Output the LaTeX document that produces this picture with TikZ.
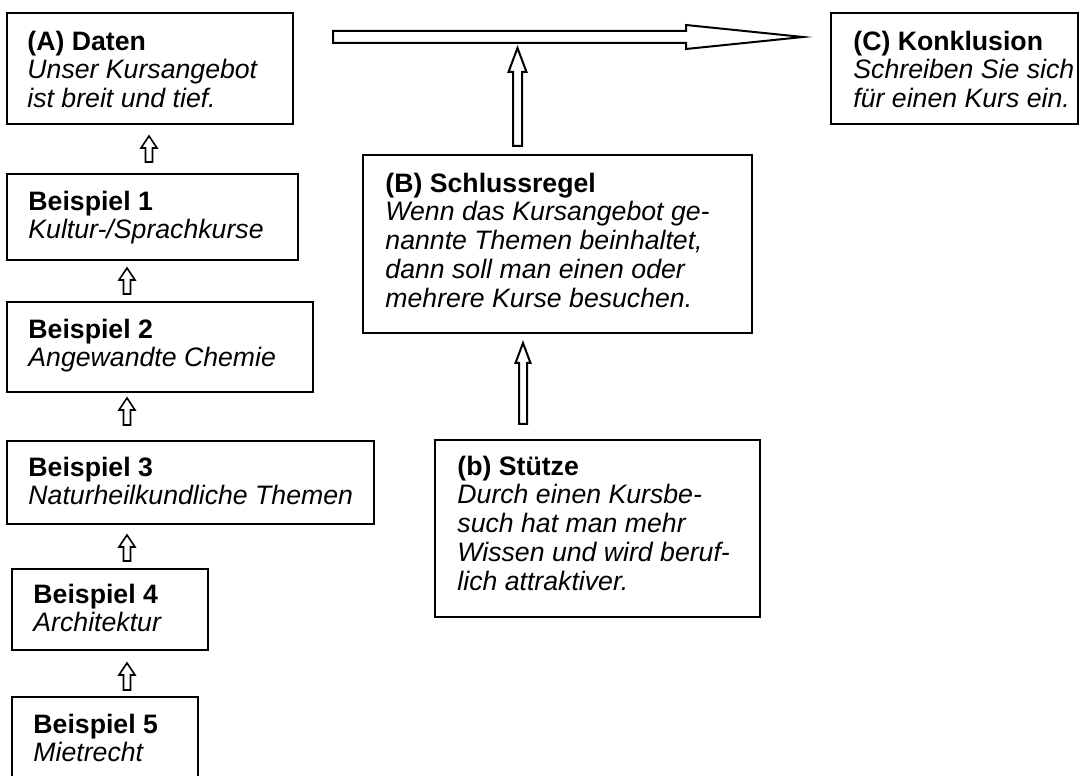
\documentclass[tikz,border=0pt]{standalone}
\usepackage{fontspec}
\setmainfont{Liberation Sans}
\usetikzlibrary{fit}
\newcommand\hollowup[6]{% x, tip y, head base y, bottom y, shaft half, head half
  \draw[hollow] (#1-#5,#4) -- (#1-#5,#3) -- (#1-#6,#3) -- (#1,#2) -- (#1+#6,#3) -- (#1+#5,#3) -- (#1+#5,#4) -- cycle;}
\begin{document}
\begin{tikzpicture}[x=0.45pt,y=-0.45pt,
  box/.style={draw, line width=0.9pt, inner sep=0pt},
  txt/.style={align=left, inner sep=0pt, anchor=base west, font=\fontsize{12}{13}\selectfont},
  hollow/.style={draw, fill=white, line width=0.9pt, line join=miter}]
\clip (0,0) rectangle (1083,776);
\fill[white] (0,0) rectangle (1083,776);

% boxes
\node[box, fit={(7,13) (293,124)}] (A) {};
\node[box, fit={(831,13) (1078,124)}] (C) {};
\node[box, fit={(7,174) (298,260)}] (E1) {};
\node[box, fit={(7,302) (313,392)}] (E2) {};
\node[box, fit={(7,441) (374,524)}] (E3) {};
\node[box, fit={(12,569) (208,650)}] (E4) {};
\node[box, fit={(12,697) (198,800)}] (E5) {};
\node[box, fit={(363,155) (752,333)}] (B) {};
\node[box, fit={(435,440) (760,617)}] (S) {};

% texts (anchor = baseline of last line)
\node[txt] (At) at (27,107.8) {\textbf{(A) Daten}\\\textit{Unser Kursangebot}\\\textit{ist breit und tief.}};
\node[txt] (Ct) at (853,107.8) {\textbf{(C) Konklusion}\\\textit{Schreiben Sie sich}\\\textit{für einen Kurs ein.}};
\node[txt] (E1t) at (28,238.9) {\textbf{Beispiel 1}\\\textit{Kultur-/Sprachkurse}};
\node[txt] (E2t) at (28,366.9) {\textbf{Beispiel 2}\\\textit{Angewandte Chemie}};
\node[txt] (E3t) at (28,504.9) {\textbf{Beispiel 3}\\\textit{Naturheilkundliche Themen}};
\node[txt] (E4t) at (33,631.9) {\textbf{Beispiel 4}\\\textit{Architektur}};
\node[txt] (E5t) at (33,761.9) {\textbf{Beispiel 5}\\\textit{Mietrecht}};
\node[txt] (Bt) at (385,307.6) {\textbf{(B) Schlussregel}\\\textit{Wenn das Kursangebot ge-}\\\textit{nannte Themen beinhaltet,}\\\textit{dann soll man einen oder}\\\textit{mehrere Kurse besuchen.}};
\node[txt] (St) at (457,590.6) {\textbf{(b) Stütze}\\\textit{Durch einen Kursbe-}\\\textit{such hat man mehr}\\\textit{Wissen und wird beruf-}\\\textit{lich attraktiver.}};

% main arrow A -> C
\draw[hollow] (333,31) -- (686,31) -- (686,25) -- (803,37) -- (686,49) -- (686,43) -- (333,43) -- cycle;

% B -> main arrow, support -> B
\hollowup{517.5}{48}{72}{146}{4.5}{9}
\hollowup{523}{343}{363}{424}{4}{7.5}

% small arrows between examples
\tikzset{hollow/.style={draw, fill=white, line width=0.7pt, line join=miter}}
\hollowup{149}{136}{148}{162}{3.5}{8}
\hollowup{127}{268}{280}{294}{3.5}{8}
\hollowup{127}{398}{410}{425}{3.5}{8}
\hollowup{127}{535}{547}{561}{3.5}{8}
\hollowup{127}{663}{675}{690}{3.5}{8}
\end{tikzpicture}
\end{document}
